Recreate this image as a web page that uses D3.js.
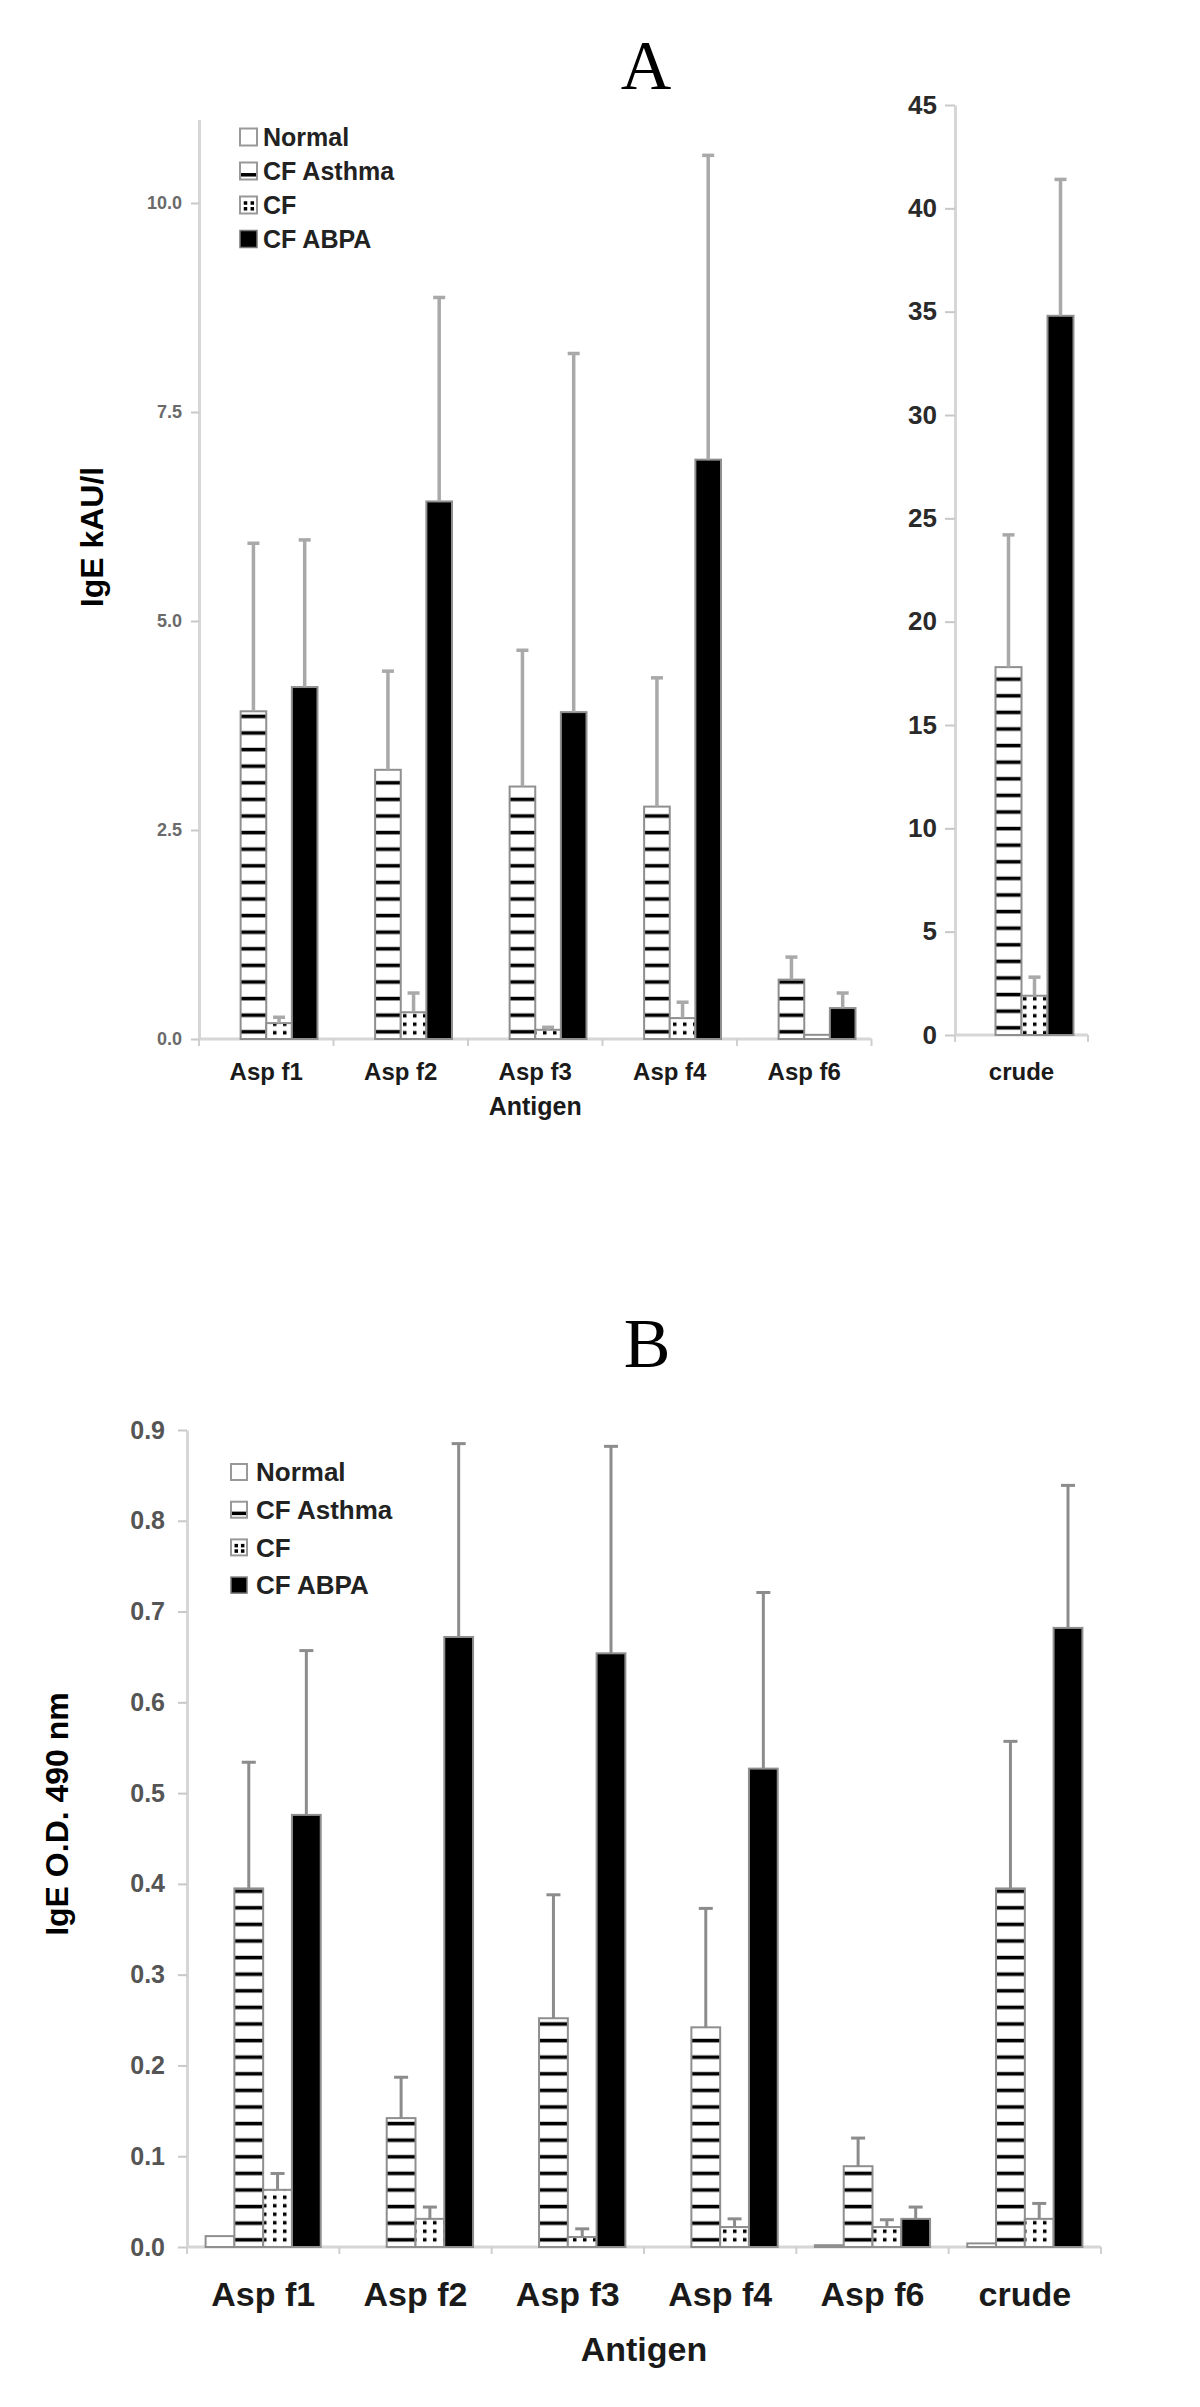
<!DOCTYPE html>
<html><head><meta charset="utf-8">
<script src="https://cdn.jsdelivr.net/npm/d3@7"></script>
<style>body{margin:0;background:#fff}svg{display:block}</style>
</head><body>
<script>
// ---------------- DATA ----------------
const series = ["Normal", "CF Asthma", "CF", "CF ABPA"];

// Panel A (IgE kAU/l) – recombinant antigens
const catsA = ["Asp f1", "Asp f2", "Asp f3", "Asp f4", "Asp f6"];
const aNormal     = [0, 0, 0, 0, 0];
const aAsthma     = [3.92, 3.22, 3.02, 2.78, 0.71];
const aCF         = [0.19, 0.32, 0.11, 0.25, 0.05];
const aABPA       = [4.21, 6.43, 3.91, 6.93, 0.37];
const aNormalErr  = [0, 0, 0, 0, 0];
const aAsthmaErr  = [2.01, 1.18, 1.63, 1.54, 0.27];
const aCFErr      = [0.07, 0.23, 0.03, 0.19, 0];
const aABPAErr    = [1.76, 2.44, 4.29, 3.64, 0.18];
const aTicks      = [0, 2.5, 5, 7.5, 10];
const aTickLabels = ["0.0", "2.5", "5.0", "7.5", "10.0"];

// Panel A – crude extract (separate scale)
const catsCrude   = ["crude"];
const cNormal     = [0];
const cAsthma     = [17.8];
const cCF         = [1.9];
const cABPA       = [34.8];
const cNormalErr  = [0];
const cAsthmaErr  = [6.4];
const cCFErr      = [0.9];
const cABPAErr    = [6.6];
const cTicks      = [0, 5, 10, 15, 20, 25, 30, 35, 40, 45];
const cTickLabels = ["0", "5", "10", "15", "20", "25", "30", "35", "40", "45"];

// Panel B (IgE O.D. 490 nm)
const catsB       = ["Asp f1", "Asp f2", "Asp f3", "Asp f4", "Asp f6", "crude"];
const bNormal     = [0.012, 0, 0, 0, 0.002, 0.004];
const bAsthma     = [0.395, 0.142, 0.252, 0.242, 0.089, 0.395];
const bCF         = [0.063, 0.031, 0.011, 0.022, 0.022, 0.031];
const bABPA       = [0.476, 0.672, 0.654, 0.527, 0.031, 0.682];
const bNormalErr  = [0, 0, 0, 0, 0, 0];
const bAsthmaErr  = [0.139, 0.045, 0.136, 0.131, 0.031, 0.162];
const bCFErr      = [0.018, 0.013, 0.009, 0.009, 0.008, 0.017];
const bABPAErr    = [0.181, 0.213, 0.228, 0.194, 0.013, 0.157];
const bTicks      = [0, 0.1, 0.2, 0.3, 0.4, 0.5, 0.6, 0.7, 0.8, 0.9];
const bTickLabels = ["0.0", "0.1", "0.2", "0.3", "0.4", "0.5", "0.6", "0.7", "0.8", "0.9"];

// ---------------- DRAWING ----------------
const FONT = "'Liberation Sans', Arial, Helvetica, sans-serif";
const SERIF = "'Liberation Serif', 'Times New Roman', serif";
const W = 1200, H = 2407;
const svg = d3.select("body").append("svg").attr("width", W).attr("height", H);
const defs = svg.append("defs");

function stripePattern(id, baseY) {
  const h = 16.6;
  const p = defs.append("pattern").attr("id", id).attr("patternUnits", "userSpaceOnUse")
    .attr("x", 0).attr("y", baseY).attr("width", 8).attr("height", h);
  p.append("rect").attr("width", 8).attr("height", h).attr("fill", "#fff");
  p.append("rect").attr("y", h - 9).attr("width", 8).attr("height", 3.6).attr("fill", "#000");
}
function dotPattern(id) {
  const p = defs.append("pattern").attr("id", id).attr("patternUnits", "userSpaceOnUse")
    .attr("width", 10).attr("height", 8.5);
  p.append("rect").attr("width", 10).attr("height", 8.5).attr("fill", "#fff");
  p.append("rect").attr("x", 3).attr("y", 2.5).attr("width", 3.5).attr("height", 3.5).attr("fill", "#000");
}
dotPattern("dots");

function panel(o) {
  const g = svg.append("g");
  const x0 = d3.scaleBand().domain(o.cats).range(o.xr);
  const bw = x0.bandwidth();
  const x1 = d3.scaleBand().domain(series).range([o.pad, bw - o.pad]);
  const y = d3.scaleLinear().domain(o.yd).range(o.yr);
  stripePattern(o.id + "stripe", y(0));
  const fills = ["#fff", `url(#${o.id}stripe)`, "url(#dots)", "#000"];

  // y axis
  const ax = d3.axisLeft(y).tickValues(o.ticks).tickFormat((d, i) => o.tickLabels[i])
    .tickSize(o.tickLen).tickSizeOuter(0).tickPadding(o.tickPad);
  const ga = g.append("g").attr("transform", `translate(${o.xr[0]},0)`).call(ax);
  ga.select(".domain").attr("stroke", "#d6d6d6").attr("stroke-width", 3);
  ga.selectAll(".tick line").attr("stroke", "#c8c8c8").attr("stroke-width", 2);
  ga.selectAll(".tick text").attr("font-family", FONT).attr("font-weight", "bold")
    .attr("font-size", o.tickFont).attr("fill", o.tickColor);

  // baseline + category boundary ticks
  g.append("line").attr("x1", o.xr[0]).attr("x2", o.xr[1]).attr("y1", y(0)).attr("y2", y(0))
    .attr("stroke", "#d6d6d6").attr("stroke-width", 3);
  const bounds = o.cats.map(c => x0(c)).concat([o.xr[1]]);
  g.selectAll(".bt").data(bounds).join("line")
    .attr("x1", d => d).attr("x2", d => d).attr("y1", y(0)).attr("y2", y(0) + 7)
    .attr("stroke", "#cfcfcf").attr("stroke-width", 2);

  // bars
  series.forEach((s, si) => {
    const rows = o.cats.map((c, i) => ({ c, v: o.values[si][i], e: o.errs[si][i] }));
    g.append("g").selectAll("rect").data(rows.filter(d => d.v > 0)).join("rect")
      .attr("x", d => x0(d.c) + x1(s))
      .attr("y", d => y(d.v))
      .attr("width", x1.bandwidth())
      .attr("height", d => y(0) - y(d.v))
      .attr("fill", fills[si])
      .attr("stroke", "#8f8f8f").attr("stroke-width", 2);
    const er = rows.filter(d => d.e > 0);
    const ge = g.append("g").attr("stroke", o.errColor).attr("stroke-width", o.errW);
    ge.selectAll("line.v").data(er).join("line").attr("class", "v")
      .attr("x1", d => x0(d.c) + x1(s) + x1.bandwidth() / 2)
      .attr("x2", d => x0(d.c) + x1(s) + x1.bandwidth() / 2)
      .attr("y1", d => y(d.v)).attr("y2", d => y(d.v + d.e));
    ge.selectAll("line.c").data(er).join("line").attr("class", "c")
      .attr("x1", d => x0(d.c) + x1(s) + x1.bandwidth() / 2 - o.capW / 2)
      .attr("x2", d => x0(d.c) + x1(s) + x1.bandwidth() / 2 + o.capW / 2)
      .attr("y1", d => y(d.v + d.e)).attr("y2", d => y(d.v + d.e));
  });

  // category labels
  g.selectAll(".cl").data(o.cats).join("text")
    .attr("x", c => x0(c) + bw / 2).attr("y", o.catY)
    .attr("text-anchor", "middle").attr("font-family", FONT).attr("font-weight", "bold")
    .attr("font-size", o.catFont).attr("fill", "#1a1a1a").text(c => c);
  return { x0, y };
}

function legend(o) {
  const g = svg.append("g");
  series.forEach((s, i) => {
    const cy = o.y0 + i * o.dy;
    const sw = o.sw;
    const gx = g.append("g");
    if (i === 0) {
      gx.append("rect").attr("x", o.x).attr("y", cy - sw / 2).attr("width", sw).attr("height", sw)
        .attr("fill", "#fff").attr("stroke", "#999").attr("stroke-width", 2);
    } else if (i === 1) {
      gx.append("rect").attr("x", o.x).attr("y", cy - sw / 2).attr("width", sw).attr("height", sw)
        .attr("fill", "#fff").attr("stroke", "#999").attr("stroke-width", 2);
      gx.append("rect").attr("x", o.x + 1).attr("y", cy + sw * 0.12).attr("width", sw - 2).attr("height", 3.5)
        .attr("fill", "#000");
    } else if (i === 2) {
      gx.append("rect").attr("x", o.x).attr("y", cy - sw / 2).attr("width", sw).attr("height", sw)
        .attr("fill", "#fff").attr("stroke", "#999").attr("stroke-width", 2);
      [[0.22, 0.28], [0.62, 0.28], [0.22, 0.62], [0.62, 0.62]].forEach(p =>
        gx.append("rect").attr("x", o.x + p[0] * sw).attr("y", cy - sw / 2 + p[1] * sw)
          .attr("width", 3.5).attr("height", 3.5).attr("fill", "#000"));
    } else {
      gx.append("rect").attr("x", o.x).attr("y", cy - sw / 2).attr("width", sw).attr("height", sw)
        .attr("fill", "#000").attr("stroke", "#777").attr("stroke-width", 1.5);
    }
    g.append("text").attr("x", o.tx).attr("y", cy).attr("dy", "0.36em")
      .attr("font-family", FONT).attr("font-weight", "bold").attr("font-size", o.font)
      .attr("fill", "#222").text(s);
  });
}

// ---- Panel A ----
svg.append("text").attr("x", 646).attr("y", 89).attr("text-anchor", "middle")
  .attr("font-family", SERIF).attr("font-size", 70).attr("fill", "#000").text("A");

const pA = panel({
  id: "a", cats: catsA, xr: [199, 871.5], pad: 16, yd: [0, 11], yr: [1039, 119.4],
  values: [aNormal, aAsthma, aCF, aABPA], errs: [aNormalErr, aAsthmaErr, aCFErr, aABPAErr],
  ticks: aTicks, tickLabels: aTickLabels, tickLen: 8, tickPad: 9, tickFont: 18, tickColor: "#6a6a6a",
  errColor: "#a9a9a9", errW: 3.5, capW: 12, catY: 1080, catFont: 24
});
panel({
  id: "c", cats: catsCrude, xr: [955, 1088], pad: 14.5, yd: [0, 45], yr: [1035, 105],
  values: [cNormal, cAsthma, cCF, cABPA], errs: [cNormalErr, cAsthmaErr, cCFErr, cABPAErr],
  ticks: cTicks, tickLabels: cTickLabels, tickLen: 10, tickPad: 8, tickFont: 26, tickColor: "#2a2a2a",
  errColor: "#a9a9a9", errW: 3.5, capW: 12, catY: 1080, catFont: 24
});
svg.append("text").attr("x", (199 + 871.5) / 2).attr("y", 1115).attr("text-anchor", "middle")
  .attr("font-family", FONT).attr("font-weight", "bold").attr("font-size", 25).attr("fill", "#1a1a1a")
  .text("Antigen");
svg.append("text").attr("transform", "translate(103,537) rotate(-90)").attr("text-anchor", "middle")
  .attr("font-family", FONT).attr("font-weight", "bold").attr("font-size", 32).attr("fill", "#000")
  .text("IgE kAU/l");
legend({ x: 240, tx: 263, y0: 137, dy: 34, sw: 17, font: 25 });

// ---- Panel B ----
svg.append("text").attr("x", 647).attr("y", 1367).attr("text-anchor", "middle")
  .attr("font-family", SERIF).attr("font-size", 70).attr("fill", "#000").text("B");

panel({
  id: "b", cats: catsB, xr: [187, 1101], pad: 18.6, yd: [0, 0.9], yr: [2247, 1430],
  values: [bNormal, bAsthma, bCF, bABPA], errs: [bNormalErr, bAsthmaErr, bCFErr, bABPAErr],
  ticks: bTicks, tickLabels: bTickLabels, tickLen: 9, tickPad: 13, tickFont: 25, tickColor: "#555",
  errColor: "#8c8c8c", errW: 3, capW: 14, catY: 2306, catFont: 34
});
svg.append("text").attr("x", (187 + 1101) / 2).attr("y", 2361).attr("text-anchor", "middle")
  .attr("font-family", FONT).attr("font-weight", "bold").attr("font-size", 34).attr("fill", "#1a1a1a")
  .text("Antigen");
svg.append("text").attr("transform", "translate(68,1814) rotate(-90)").attr("text-anchor", "middle")
  .attr("font-family", FONT).attr("font-weight", "bold").attr("font-size", 32).attr("fill", "#000")
  .text("IgE O.D. 490 nm");
legend({ x: 231, tx: 256, y0: 1472, dy: 37.7, sw: 16, font: 26 });
</script>
</body></html>
